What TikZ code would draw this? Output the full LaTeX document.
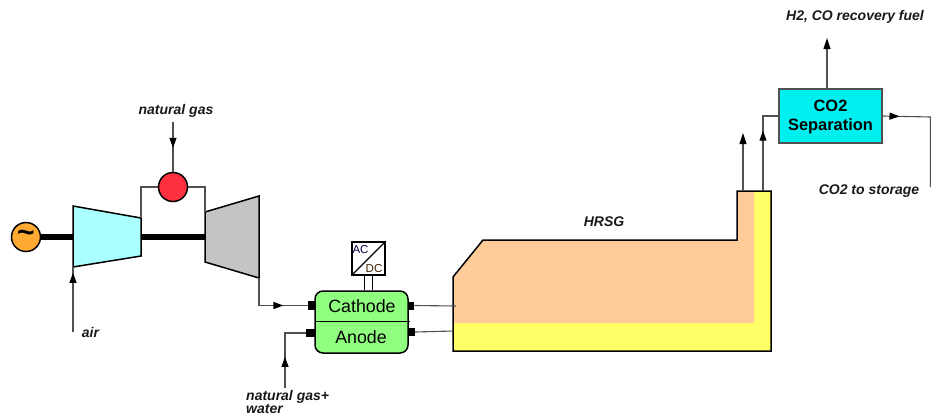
\documentclass[tikz,border=0pt]{standalone}
\usepackage{fontspec}
\setmainfont{Liberation Sans}
\usetikzlibrary{arrows.meta,decorations.markings}
\definecolor{conn}{HTML}{505050}
\definecolor{peach}{HTML}{FFCC99}
\definecolor{yel}{HTML}{FFFF66}
\definecolor{cellgreen}{HTML}{90FF80}
\definecolor{sepcyan}{HTML}{00F0F0}
\definecolor{genorange}{HTML}{FFAA33}
\definecolor{burnred}{HTML}{FF3040}
\definecolor{compcyan}{HTML}{AAFFFF}
\definecolor{turbgray}{HTML}{C4C4C4}
\tikzset{
  x=1pt,y=-1pt,
  outline/.style={draw=black,line width=1.5pt,line join=miter},
  conline/.style={draw=conn,line width=1.1pt},
  shaft/.style={draw=black,line width=6pt},
  tipat/.style={postaction={decorate},decoration={markings,mark=at position #1 with {\arrow[black]{Triangle[length=10pt,width=7pt]}}}},
  endtip/.style={-{Triangle[length=11pt,width=7pt,color=black]}},
  disc/.style={circle,outline,inner sep=0pt,minimum size=29pt},
  label/.style={font=\bfseries\itshape\fontsize{14}{14}\selectfont,inner sep=0pt,text=black!90},
  port/.style={fill=black,inner sep=0pt,rectangle},
}
\begin{document}
\begin{tikzpicture}
\useasboundingbox (0,0) rectangle (931,416);
% key corner coordinates
\coordinate (cTL) at (73,206); \coordinate (cTR) at (141,218);
\coordinate (cBR) at (141,256); \coordinate (cBL) at (73,267);
\coordinate (tTL) at (205,212); \coordinate (tTR) at (259,196);
\coordinate (tBR) at (259,278); \coordinate (tBL) at (205,262);
% HRSG
\fill[yel] (453,277) -- (483,240) -- (737,240) -- (737,191) -- (771,191) -- (771,351) -- (453,351) -- cycle;
\fill[peach] (453,277) -- (483,240) -- (737,240) -- (737,191) -- (754,191) -- (754,323) -- (453,323) -- cycle;
\draw[outline] (453,277) -- (483,240) -- (737,240) -- (737,191) -- (771,191) -- (771,351) -- (453,351) -- cycle;
\coordinate (hCath) at (456,306); \coordinate (hAn) at (453,331);
\coordinate (hOutA) at (743,191); \coordinate (hOutB) at (763,191);
% shafts
\node[disc,fill=genorange] (gen) at (26,237) {};
\draw[shaft] (gen.east) -- (73,237);
\draw[shaft] (141,237) -- (205,237);
\node[inner sep=0pt,font=\bfseries\fontsize{30}{30}\selectfont] at (26,236.5) {\char`\~};
% compressor and turbine
\draw[outline,fill=compcyan] (cTL) -- (cTR) -- (cBR) -- (cBL) -- cycle;
\draw[outline,fill=turbgray] (tTL) -- (tTR) -- (tBR) -- (tBL) -- cycle;
% combustor
\node[disc,fill=burnred] (burn) at (173,187) {};
\draw[conline] (cTR) |- (burn.west);
\draw[conline] (burn.east) -| (tTL);
% natural gas
\node[label] (ngas) at (176,111) {natural gas};
\coordinate (ngStart) at (173,122);
\draw[conline,tipat=0.52] (ngStart) -- (burn.north);
% air
\node[label] (air) at (90.5,332) {air};
\coordinate (airStart) at (73,332);
\draw[conline,tipat=0.91] (airStart) -- (cBL);
% fuel cell
\node[draw=black,line width=1.5pt,fill=cellgreen,rounded corners=8pt,minimum width=93pt,minimum height=62pt,inner sep=0pt] (cell) at (361.5,322) {};
\draw[draw=black,line width=1pt] (315,321) -- (410,321);
\node[inner sep=0pt,font=\fontsize{17.8}{18}\selectfont] (cath) at (362,306) {Cathode};
\node[inner sep=0pt,font=\fontsize{17.8}{18}\selectfont] (anod) at (361,337) {Anode};
\node[port,minimum width=7pt,minimum height=8.5pt] (pc1) at (311.5,305.5) {};
\node[port,minimum width=9pt,minimum height=8pt] (pa1) at (310.5,333) {};
\node[port,minimum width=6.5pt,minimum height=8pt] (pc2) at (411,305.5) {};
\node[port,minimum width=7pt,minimum height=8pt] (pa2) at (411.5,332) {};
% turbine exhaust to cathode
\draw[conline,tipat=0.68] (tBR) |- (pc1.west);
% anode feed
\node[label,align=left,anchor=north west,font=\bfseries\itshape\fontsize{14}{12}\selectfont] (ngw) at (246,390) {natural gas+\\water};
\coordinate (anStart) at (285,388);
\draw[conline,tipat=0.41] (anStart) |- (pa1.west);
% cell to HRSG
\draw[conline] (pc2.east) -- (hCath);
\draw[conline] (pa2.east) -- (hAn);
% AC DC
\node[draw=black,line width=1.3pt,fill=white,minimum size=33pt,inner sep=0pt] (acdc) at (368.5,258.5) {};
\draw[black,line width=1.3pt] (acdc.south west) -- (acdc.north east);
\node[inner sep=0pt,font=\fontsize{11.5}{11.5}\selectfont,text=black!75!blue] at (360.5,249.5) {AC};
\node[inner sep=0pt,font=\fontsize{11.5}{11.5}\selectfont,text=black!75!orange] at (374,269) {DC};
\draw[draw=black,line width=.8pt] ([xshift=-4pt]acdc.south) -- ([xshift=-4pt]acdc.south |- cell.north);
\draw[draw=black,line width=.8pt] ([xshift=4pt]acdc.south) -- ([xshift=4pt]acdc.south |- cell.north);
% HRSG label
\node[label] (hrsg) at (604,222) {HRSG};
% separation
\node[draw=conn,line width=1.3pt,fill=sepcyan,minimum width=103pt,minimum height=54pt,inner sep=0pt] (sep) at (830.5,116) {};
\node[inner sep=0pt,align=center,font=\bfseries\fontsize{16.4}{18.5}\selectfont] (septext) at (830.5,117) {CO2\\Separation};
\coordinate (stackTop) at (743,133);
\draw[conline,endtip] (hOutA) -- (stackTop);
\draw[conline,tipat=0.667] (hOutB) |- (sep.west);
\coordinate (h2top) at (827,38);
\draw[conline,endtip] (sep.north -| h2top) -- (h2top);
\node[label] (h2) at (855,17) {H2, CO recovery fuel};
\coordinate (storEnd) at (930.4,187);
\draw[conline,tipat=0.143] (sep.east) -- (930.4,117) -- (storEnd);
\node[label] (co2s) at (869,191) {CO2 to storage};
\end{tikzpicture}
\end{document}
